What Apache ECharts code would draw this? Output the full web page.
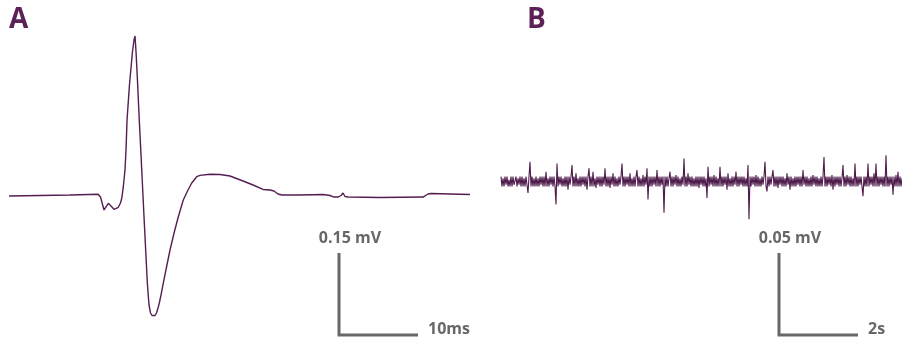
<!DOCTYPE html>
<html>
<head>
<meta charset="utf-8">
<script src="https://cdn.jsdelivr.net/npm/echarts@6/dist/echarts.min.js"></script>
<style>
  html, body { margin: 0; padding: 0; background: #fff; }
  #chart { width: 902px; height: 343px; }
</style>
</head>
<body>
<div id="chart"></div>
<script>
  // A: averaged spike waveform (time in ms, voltage in µV)
  const spikeTimeMs = [
    0, 3.92, 7.72, 11.27, 11.43, 11.58, 12.03, 12.57, 12.91, 13.29,
    13.84, 14.11, 14.27, 14.47, 14.58, 14.68, 14.81, 14.94, 15.23, 15.61,
    15.82, 15.95, 16.08, 16.27, 16.49, 16.71, 17.09, 17.51, 17.72, 17.91,
    18.10, 18.27, 18.48, 18.67, 18.86, 19.03, 19.24, 19.53, 19.94, 20.38,
    20.89, 21.43, 22.06, 22.59, 23.13, 23.76, 24.18, 25.44, 26.71, 27.97,
    29.62, 30.89, 32.15, 33.04, 33.54, 34.05, 34.56, 36.84, 39.75, 40.63,
    41.14, 41.65, 42.03, 42.28, 42.53, 42.91, 46.96, 52.41, 53.04, 53.42,
    55.82, 58.35
  ];
  const spikeUv = [
    -1.8, -0.9, 0, 1.3, 2.7, -3.7, -27.4, -15.2, -20.1, -26.2,
    -22.5, -14.6, -6.0, 15.2, 31.1, 45.7, 82.3, 137.2, 198.1, 259.8,
    283.5, 290.9, 261.6, 206.7, 137.2, 73.2, -40.2, -161.0, -201.2, -215.8,
    -220.4, -221.3, -220.4, -215.8, -206.7, -197.5, -182.9, -161.0, -131.7, -100.6,
    -69.5, -39.7, -9.1, 7.3, 21.9, 33.5, 36.0, 37.9, 37.5, 34.8,
    25.6, 18.3, 10.1, 9.1, 7.3, 1.8, 0, 0, 0.9, -0.9,
    -3.7, -3.7, -0.9, 3.7, -2.7, -3.7, -4.6, -3.7, 1.8, 2.7,
    1.8, 0.9
  ];

  // B: raw recording (voltage in µV), evenly sampled
  const traceStepS = 1 / 39.5;
  const traceUv = [
    3, -3, 2, -3, 3, -2, 3, -3, 1, -3, 3, -3, 3, -2, -3, 3, -3, 2, -2, 3,
    -3, 3, -3, 2, -3, 3, -2, -7, 3, 12, -3, 3, -3, 2, -3, 3, -3, 2, -3, 3,
    -2, 3, -3, 3, -3, 6, -3, 2, -3, 3, -2, 3, -3, 3, -3, -14, 11, -3, 3, -2,
    3, -3, 2, -3, 3, -3, 3, -5, 3, -2, 3, 10, -3, 3, -3, 5, -3, 2, -3, 3,
    -3, 3, -2, 3, -3, 3, -5, 3, 8, -3, 3, -3, 6, -3, 2, -4, 3, -2, 3, -3,
    3, -3, 3, -2, 8, -3, 3, -3, 3, -4, 3, -2, 5, -3, 3, -3, 2, -3, 3, -2,
    3, 11, -3, 3, -3, 3, -2, 3, -3, 5, -3, 2, -3, 3, -3, 3, 7, -3, 3, -3,
    2, -3, 4, -3, 3, -2, 8, -11, 3, -3, 3, -3, 3, -2, 3, -3, 7, -3, 3, -3,
    3, -2, 3, -19, 3, -3, 3, -3, 2, 6, -3, 3, -3, 3, -2, 4, -3, 3, -3, 2,
    -3, 3, -2, 14, -3, 3, -3, 5, -2, 3, -3, 3, -3, 2, -3, 3, -3, 3, -4, 3,
    -2, 3, -3, 3, -3, 2, -10, 9, -3, 3, -2, 3, -3, 4, -3, 3, -3, 2, -3, 9,
    -3, 3, -3, 3, -2, 3, -5, 5, -3, 2, -3, 3, -3, 3, -2, 6, -3, 3, -3, 3,
    -2, 3, -3, 3, -3, 2, -3, 10, -23, 3, -3, 3, -2, 3, -3, 4, -3, 3, -3, 2,
    -3, 3, -2, 3, 12, -3, -6, 3, -3, 3, -2, 3, 7, -3, 3, -3, 3, -4, 3, -2,
    3, -3, 3, -3, 2, -3, 5, -2, 3, -5, 3, -3, 2, -3, 3, -3, 3, -2, 3, -3,
    3, -3, 7, -2, 3, -3, 3, -3, 2, -3, 3, -3, 4, -2, 3, -3, 3, -3, 2, -3,
    3, -3, 3, 15, -3, 3, -3, 3, -2, 3, -3, 4, -5, 3, -3, 3, -2, 3, -3, 3,
    -3, 2, 10, -3, 3, -3, 4, -2, 3, -3, 3, -3, 2, -3, 11, -3, 3, -3, 3, -2,
    3, -3, -9, 3, -3, 3, -3, 11, -3, 3, -2, 3, -3, 5, -3, 11, -3, 3, -3, 3,
    -2, 3, -3, 3, -3, 16, -3, 3, -3, 3, -2, 3, -8, 3, -3, 4, -3, 6, -3, 3,
    -3, 2
  ];

  // scale bars (anchor = corner, in data units of each panel)
  const scaleBarA = { t: 41.77, v: -256.1, dt: 10, dv: 150, xLabel: '10ms', yLabel: '0.15 mV' };
  const scaleBarB = { t: 7.038, v: -93.6, dt: 2, dv: 50, xLabel: '2s', yLabel: '0.05 mV' };
  const panelLabels = ['A', 'B'];

  const purple = '#561d52';
  const tracePurple = '#4f1c4c';
  const labelPurple = '#5c2157';
  const grey = '#676767';

  const spikeData = spikeTimeMs.map((t, i) => [t, spikeUv[i]]);
  const traceData = traceUv.map((v, i) => [i * traceStepS, v]);
  function barData(s) {
    return [[s.t, s.v + s.dv], [s.t, s.v], [s.t + s.dt, s.v]];
  }

  const myChart = echarts.init(document.getElementById('chart'));
  const options = {
    animation: false,
    grid: [
      { left: 9, top: 0, width: 461, height: 343 },
      { left: 501, top: 0, width: 401, height: 343 }
    ],
    xAxis: [
      { type: 'value', gridIndex: 0, min: 0, max: 58.35, show: false },
      { type: 'value', gridIndex: 1, min: 0, max: 10.152, show: false }
    ],
    yAxis: [
      { type: 'value', gridIndex: 0, min: -270.7, max: 356.7, show: false },
      { type: 'value', gridIndex: 1, min: -98.5, max: 110.7, show: false }
    ],
    series: [
      {
        name: 'spike',
        type: 'line',
        xAxisIndex: 0,
        yAxisIndex: 0,
        symbol: 'none',
        lineStyle: { color: purple, width: 1.4 },
        data: spikeData
      },
      {
        name: 'trace',
        type: 'line',
        xAxisIndex: 1,
        yAxisIndex: 1,
        symbol: 'none',
        clip: false,
        lineStyle: { color: tracePurple, width: 1.1, opacity: 1 },
        data: traceData
      },
      {
        name: 'scaleA',
        type: 'line',
        xAxisIndex: 0,
        yAxisIndex: 0,
        symbol: 'none',
        lineStyle: { color: grey, width: 3, cap: 'butt', join: 'miter' },
        data: barData(scaleBarA)
      },
      {
        name: 'scaleB',
        type: 'line',
        xAxisIndex: 1,
        yAxisIndex: 1,
        symbol: 'none',
        lineStyle: { color: grey, width: 3, cap: 'butt', join: 'miter' },
        data: barData(scaleBarB)
      }
    ]
  };
  myChart.setOption(options, true);

  // labels placed from the bars' pixel positions
  const texts = [];
  [scaleBarA, scaleBarB].forEach((s, g) => {
    const top = myChart.convertToPixel({ gridIndex: g }, [s.t, s.v + s.dv]);
    const end = myChart.convertToPixel({ gridIndex: g }, [s.t + s.dt, s.v]);
    texts.push({
      type: 'text',
      style: {
        text: s.yLabel, x: top[0] + 11, y: top[1] - 15,
        textAlign: 'center', textVerticalAlign: 'middle',
        font: 'bold 16px "Open Sans"', fill: grey
      }
    });
    texts.push({
      type: 'text',
      style: {
        text: s.xLabel, x: end[0] + 10, y: end[1] - 6,
        textAlign: 'left', textVerticalAlign: 'middle',
        font: 'bold 16px "Open Sans"', fill: grey
      }
    });
  });
  const labelX = [9, 527];
  panelLabels.forEach((l, i) => {
    texts.push({
      type: 'text',
      style: {
        text: l, x: labelX[i], y: 20,
        textAlign: 'left', textVerticalAlign: 'middle',
        font: 'bold 28px "Open Sans"', fill: labelPurple
      }
    });
  });
  myChart.setOption({ graphic: texts });
</script>
</body>
</html>
